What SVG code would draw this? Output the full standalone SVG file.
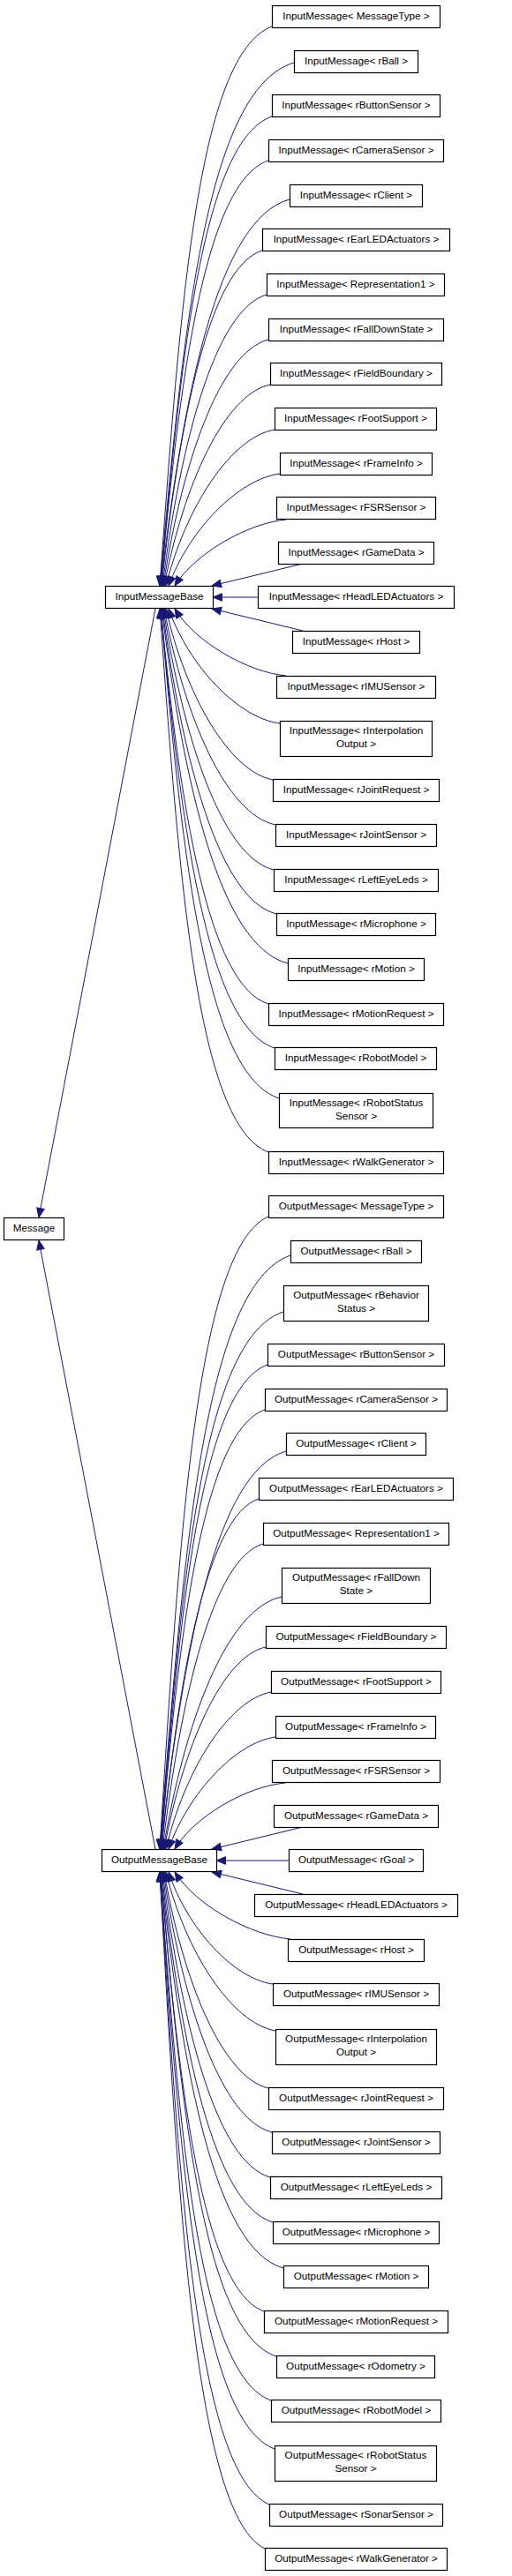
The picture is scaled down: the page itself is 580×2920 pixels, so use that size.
<svg xmlns="http://www.w3.org/2000/svg" width="580" height="2920" viewBox="0 0 580 2920">
<defs>
<style>
.n rect{fill:#fff;stroke:#000;stroke-width:1.2}
.n text{font-family:"Liberation Sans",Arial,sans-serif;font-size:11.7px;text-anchor:middle;fill:#000}
#edges path{fill:none;stroke:#191970;stroke-width:1;marker-end:url(#ah)}
</style>
<marker id="ah" markerUnits="userSpaceOnUse" markerWidth="14" markerHeight="12" viewBox="-12 -6 14 12" refX="0" refY="0" orient="auto" overflow="visible"><path d="M0,0 L-10.5,-4.3 L-10.5,4.3 Z" fill="#191970" stroke="#191970" stroke-width="1"/></marker>
</defs>
<rect width="580" height="2920" fill="#fff"/>
<g id="edges">
<path d="M176,690 L44,1380"/>
<path d="M176,2096 L44,1406"/>
<path d="M308,30 C224,62 204,347 181,664"/>
<path d="M333,71 C234,101 208,368 181,664"/>
<path d="M308,132 C231,159 205,398 182,664"/>
<path d="M304,182 C233,206 204,423 182,664"/>
<path d="M328,226 C247,248 208,445 182,664"/>
<path d="M297,284 C237,303 204,474 183,664"/>
<path d="M302,334 C244,351 205,499 184,664"/>
<path d="M304,385 C249,399 206,525 185,664"/>
<path d="M306,436 C254,447 208,550 186,664"/>
<path d="M311,487 C261,496 210,576 188,664"/>
<path d="M317,537 C270,543 214,601 191,664"/>
<path d="M324,589 C281,593 221,627 198,664"/>
<path d="M343,639 L240,664"/>
<path d="M292,677 L241,677"/>
<path d="M343,715 L240,690"/>
<path d="M324,766 C281,762 221,728 198,690"/>
<path d="M317,820 C270,814 214,755 191,690"/>
<path d="M309,884 C259,874 210,787 188,690"/>
<path d="M312,935 C256,923 209,813 186,690"/>
<path d="M310,986 C251,971 208,838 185,690"/>
<path d="M313,1036 C248,1019 207,863 184,690"/>
<path d="M326,1092 C249,1072 209,891 183,690"/>
<path d="M304,1138 C235,1116 204,914 182,690"/>
<path d="M311,1188 C235,1163 205,939 182,690"/>
<path d="M316,1245 C232,1217 206,968 182,690"/>
<path d="M304,1306 C223,1275 203,998 181,690"/>
<path d="M304,1379 C223,1415 203,1738 181,2096"/>
<path d="M329,1423 C231,1457 208,1760 181,2096"/>
<path d="M321,1487 C229,1517 206,1792 181,2096"/>
<path d="M303,1547 C228,1574 204,1822 182,2096"/>
<path d="M300,1598 C230,1623 203,1847 182,2096"/>
<path d="M324,1645 C244,1668 208,1871 182,2096"/>
<path d="M293,1699 C234,1719 203,1898 183,2096"/>
<path d="M298,1750 C241,1767 205,1923 184,2096"/>
<path d="M319,1810 C256,1824 209,1953 185,2096"/>
<path d="M301,1867 C251,1878 207,1982 186,2096"/>
<path d="M307,1918 C259,1927 209,2007 188,2096"/>
<path d="M312,1969 C267,1975 213,2033 191,2096"/>
<path d="M323,2021 C279,2025 220,2059 198,2096"/>
<path d="M343,2071 L240,2096"/>
<path d="M327,2109 L245,2109"/>
<path d="M343,2147 L240,2122"/>
<path d="M329,2198 C284,2194 222,2160 198,2122"/>
<path d="M309,2249 C265,2243 212,2186 191,2122"/>
<path d="M312,2302 C262,2293 210,2212 188,2122"/>
<path d="M304,2367 C252,2355 207,2245 186,2122"/>
<path d="M308,2417 C250,2402 207,2270 185,2122"/>
<path d="M306,2468 C245,2451 206,2295 184,2122"/>
<path d="M309,2519 C242,2499 206,2321 183,2122"/>
<path d="M321,2571 C243,2549 207,2347 182,2122"/>
<path d="M299,2620 C230,2595 203,2371 182,2122"/>
<path d="M313,2671 C231,2644 206,2397 182,2122"/>
<path d="M307,2721 C225,2691 204,2422 181,2122"/>
<path d="M311,2776 C225,2743 204,2449 181,2122"/>
<path d="M305,2839 C223,2803 203,2481 181,2122"/>
<path d="M300,2889 C222,2851 202,2506 181,2122"/>
</g>
<g id="n-message" class="n"><rect x="4.5" y="1380.5" width="68" height="25"/><text x="38.5" y="1396">Message</text></g>
<g id="n-inputmessagebase" class="n"><rect x="119.5" y="664.5" width="122" height="25"/><text x="180.5" y="680">InputMessageBase</text></g>
<g id="n-outputmessagebase" class="n"><rect x="115.5" y="2096.5" width="130" height="25"/><text x="180.5" y="2112">OutputMessageBase</text></g>
<g id="n-in-messagetype" class="n"><rect x="308.5" y="6.5" width="190" height="25"/><text x="403.5" y="22">InputMessage&lt; MessageType &gt;</text></g>
<g id="n-in-rball" class="n"><rect x="333.5" y="57.5" width="140" height="25"/><text x="403.5" y="73">InputMessage&lt; rBall &gt;</text></g>
<g id="n-in-rbuttonsensor" class="n"><rect x="308.5" y="107.5" width="190" height="25"/><text x="403.5" y="123">InputMessage&lt; rButtonSensor &gt;</text></g>
<g id="n-in-rcamerasensor" class="n"><rect x="304.5" y="158.5" width="198" height="25"/><text x="403.5" y="174">InputMessage&lt; rCameraSensor &gt;</text></g>
<g id="n-in-rclient" class="n"><rect x="328.5" y="209.5" width="150" height="25"/><text x="403.5" y="225">InputMessage&lt; rClient &gt;</text></g>
<g id="n-in-rearledactuators" class="n"><rect x="297.5" y="259.5" width="212" height="25"/><text x="403.5" y="275">InputMessage&lt; rEarLEDActuators &gt;</text></g>
<g id="n-in-representation1" class="n"><rect x="302.5" y="310.5" width="201" height="25"/><text x="403" y="326">InputMessage&lt; Representation1 &gt;</text></g>
<g id="n-in-rfalldownstate" class="n"><rect x="304.5" y="361.5" width="198" height="25"/><text x="403.5" y="377">InputMessage&lt; rFallDownState &gt;</text></g>
<g id="n-in-rfieldboundary" class="n"><rect x="306.5" y="411.5" width="194" height="25"/><text x="403.5" y="427">InputMessage&lt; rFieldBoundary &gt;</text></g>
<g id="n-in-rfootsupport" class="n"><rect x="311.5" y="462.5" width="183" height="25"/><text x="403" y="478">InputMessage&lt; rFootSupport &gt;</text></g>
<g id="n-in-rframeinfo" class="n"><rect x="317.5" y="513.5" width="172" height="25"/><text x="403.5" y="529">InputMessage&lt; rFrameInfo &gt;</text></g>
<g id="n-in-rfsrsensor" class="n"><rect x="313.5" y="563.5" width="180" height="25"/><text x="403.5" y="579">InputMessage&lt; rFSRSensor &gt;</text></g>
<g id="n-in-rgamedata" class="n"><rect x="315.5" y="614.5" width="176" height="25"/><text x="403.5" y="630">InputMessage&lt; rGameData &gt;</text></g>
<g id="n-in-rheadledactuators" class="n"><rect x="292.5" y="664.5" width="222" height="25"/><text x="403.5" y="680">InputMessage&lt; rHeadLEDActuators &gt;</text></g>
<g id="n-in-rhost" class="n"><rect x="331.5" y="715.5" width="144" height="25"/><text x="403.5" y="731">InputMessage&lt; rHost &gt;</text></g>
<g id="n-in-rimusensor" class="n"><rect x="313.5" y="766.5" width="180" height="25"/><text x="403.5" y="782">InputMessage&lt; rIMUSensor &gt;</text></g>
<g id="n-in-rinterpolationoutput" class="n"><rect x="317.5" y="817.5" width="172" height="40"/><text x="403.5" y="832">InputMessage&lt; rInterpolation</text><text x="403.5" y="846.5">Output &gt;</text></g>
<g id="n-in-rjointrequest" class="n"><rect x="309.5" y="883.5" width="188" height="25"/><text x="403.5" y="899">InputMessage&lt; rJointRequest &gt;</text></g>
<g id="n-in-rjointsensor" class="n"><rect x="312.5" y="934.5" width="182" height="25"/><text x="403.5" y="950">InputMessage&lt; rJointSensor &gt;</text></g>
<g id="n-in-rlefteyeleds" class="n"><rect x="310.5" y="985.5" width="186" height="25"/><text x="403.5" y="1001">InputMessage&lt; rLeftEyeLeds &gt;</text></g>
<g id="n-in-rmicrophone" class="n"><rect x="313.5" y="1035.5" width="180" height="25"/><text x="403.5" y="1051">InputMessage&lt; rMicrophone &gt;</text></g>
<g id="n-in-rmotion" class="n"><rect x="326.5" y="1086.5" width="154" height="25"/><text x="403.5" y="1102">InputMessage&lt; rMotion &gt;</text></g>
<g id="n-in-rmotionrequest" class="n"><rect x="304.5" y="1137.5" width="198" height="25"/><text x="403.5" y="1153">InputMessage&lt; rMotionRequest &gt;</text></g>
<g id="n-in-rrobotmodel" class="n"><rect x="311.5" y="1187.5" width="183" height="25"/><text x="403" y="1203">InputMessage&lt; rRobotModel &gt;</text></g>
<g id="n-in-rrobotstatussensor" class="n"><rect x="316.5" y="1239.5" width="174" height="39"/><text x="403.5" y="1254">InputMessage&lt; rRobotStatus</text><text x="403.5" y="1268.5">Sensor &gt;</text></g>
<g id="n-in-rwalkgenerator" class="n"><rect x="304.5" y="1305.5" width="198" height="25"/><text x="403.5" y="1321">InputMessage&lt; rWalkGenerator &gt;</text></g>
<g id="n-out-messagetype" class="n"><rect x="304.5" y="1355.5" width="198" height="25"/><text x="403.5" y="1371">OutputMessage&lt; MessageType &gt;</text></g>
<g id="n-out-rball" class="n"><rect x="329.5" y="1406.5" width="148" height="25"/><text x="403.5" y="1422">OutputMessage&lt; rBall &gt;</text></g>
<g id="n-out-rbehaviorstatus" class="n"><rect x="321.5" y="1457.5" width="164" height="40"/><text x="403.5" y="1472">OutputMessage&lt; rBehavior</text><text x="403.5" y="1486.5">Status &gt;</text></g>
<g id="n-out-rbuttonsensor" class="n"><rect x="303.5" y="1523.5" width="200" height="25"/><text x="403.5" y="1539">OutputMessage&lt; rButtonSensor &gt;</text></g>
<g id="n-out-rcamerasensor" class="n"><rect x="300.5" y="1574.5" width="206" height="25"/><text x="403.5" y="1590">OutputMessage&lt; rCameraSensor &gt;</text></g>
<g id="n-out-rclient" class="n"><rect x="324.5" y="1624.5" width="158" height="25"/><text x="403.5" y="1640">OutputMessage&lt; rClient &gt;</text></g>
<g id="n-out-rearledactuators" class="n"><rect x="293.5" y="1675.5" width="220" height="25"/><text x="403.5" y="1691">OutputMessage&lt; rEarLEDActuators &gt;</text></g>
<g id="n-out-representation1" class="n"><rect x="298.5" y="1726.5" width="210" height="25"/><text x="403.5" y="1742">OutputMessage&lt; Representation1 &gt;</text></g>
<g id="n-out-rfalldownstate" class="n"><rect x="319.5" y="1777.5" width="168" height="40"/><text x="403.5" y="1792">OutputMessage&lt; rFallDown</text><text x="403.5" y="1806.5">State &gt;</text></g>
<g id="n-out-rfieldboundary" class="n"><rect x="301.5" y="1843.5" width="204" height="25"/><text x="403.5" y="1859">OutputMessage&lt; rFieldBoundary &gt;</text></g>
<g id="n-out-rfootsupport" class="n"><rect x="307.5" y="1894.5" width="192" height="25"/><text x="403.5" y="1910">OutputMessage&lt; rFootSupport &gt;</text></g>
<g id="n-out-rframeinfo" class="n"><rect x="312.5" y="1945.5" width="181" height="25"/><text x="403" y="1961">OutputMessage&lt; rFrameInfo &gt;</text></g>
<g id="n-out-rfsrsensor" class="n"><rect x="308.5" y="1995.5" width="190" height="25"/><text x="403.5" y="2011">OutputMessage&lt; rFSRSensor &gt;</text></g>
<g id="n-out-rgamedata" class="n"><rect x="310.5" y="2046.5" width="186" height="25"/><text x="403.5" y="2062">OutputMessage&lt; rGameData &gt;</text></g>
<g id="n-out-rgoal" class="n"><rect x="327.5" y="2096.5" width="152" height="25"/><text x="403.5" y="2112">OutputMessage&lt; rGoal &gt;</text></g>
<g id="n-out-rheadledactuators" class="n"><rect x="288.5" y="2147.5" width="230" height="25"/><text x="403.5" y="2163">OutputMessage&lt; rHeadLEDActuators &gt;</text></g>
<g id="n-out-rhost" class="n"><rect x="326.5" y="2198.5" width="154" height="25"/><text x="403.5" y="2214">OutputMessage&lt; rHost &gt;</text></g>
<g id="n-out-rimusensor" class="n"><rect x="309.5" y="2248.5" width="188" height="25"/><text x="403.5" y="2264">OutputMessage&lt; rIMUSensor &gt;</text></g>
<g id="n-out-rinterpolationoutput" class="n"><rect x="312.5" y="2300.5" width="182" height="40"/><text x="403.5" y="2315">OutputMessage&lt; rInterpolation</text><text x="403.5" y="2329.5">Output &gt;</text></g>
<g id="n-out-rjointrequest" class="n"><rect x="304.5" y="2366.5" width="198" height="25"/><text x="403.5" y="2382">OutputMessage&lt; rJointRequest &gt;</text></g>
<g id="n-out-rjointsensor" class="n"><rect x="308.5" y="2416.5" width="190" height="25"/><text x="403.5" y="2432">OutputMessage&lt; rJointSensor &gt;</text></g>
<g id="n-out-rlefteyeleds" class="n"><rect x="306.5" y="2467.5" width="194" height="25"/><text x="403.5" y="2483">OutputMessage&lt; rLeftEyeLeds &gt;</text></g>
<g id="n-out-rmicrophone" class="n"><rect x="309.5" y="2518.5" width="188" height="25"/><text x="403.5" y="2534">OutputMessage&lt; rMicrophone &gt;</text></g>
<g id="n-out-rmotion" class="n"><rect x="321.5" y="2568.5" width="164" height="25"/><text x="403.5" y="2584">OutputMessage&lt; rMotion &gt;</text></g>
<g id="n-out-rmotionrequest" class="n"><rect x="299.5" y="2619.5" width="208" height="25"/><text x="403.5" y="2635">OutputMessage&lt; rMotionRequest &gt;</text></g>
<g id="n-out-rodometry" class="n"><rect x="313.5" y="2670.5" width="179" height="25"/><text x="403" y="2686">OutputMessage&lt; rOdometry &gt;</text></g>
<g id="n-out-rrobotmodel" class="n"><rect x="307.5" y="2720.5" width="192" height="25"/><text x="403.5" y="2736">OutputMessage&lt; rRobotModel &gt;</text></g>
<g id="n-out-rrobotstatussensor" class="n"><rect x="311.5" y="2772.5" width="183" height="40"/><text x="403" y="2787">OutputMessage&lt; rRobotStatus</text><text x="403" y="2801.5">Sensor &gt;</text></g>
<g id="n-out-rsonarsensor" class="n"><rect x="305.5" y="2838.5" width="196" height="25"/><text x="403.5" y="2854">OutputMessage&lt; rSonarSensor &gt;</text></g>
<g id="n-out-rwalkgenerator" class="n"><rect x="300.5" y="2888.5" width="206" height="25"/><text x="403.5" y="2904">OutputMessage&lt; rWalkGenerator &gt;</text></g>
</svg>
